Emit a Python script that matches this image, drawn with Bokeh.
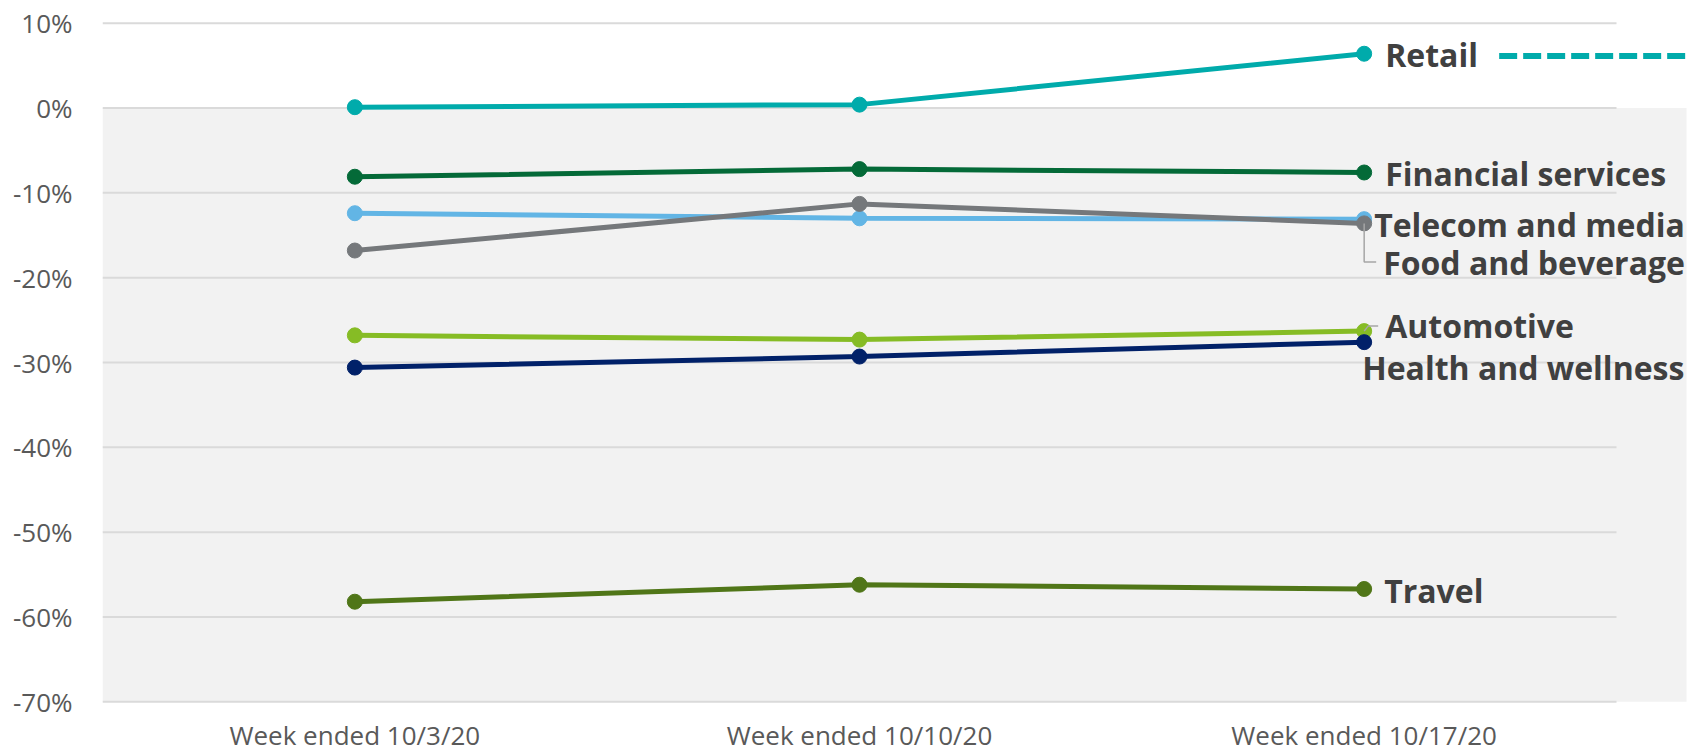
from bokeh.plotting import figure
from bokeh.models import Range1d, FixedTicker, PrintfTickFormatter, BoxAnnotation
from bokeh.core.properties import value
from bokeh.embed import file_html
from bokeh.resources import INLINE

# Weekly change by sector (percent)
weeks = ["Week ended 10/3/20", "Week ended 10/10/20", "Week ended 10/17/20"]
retail = [0.1, 0.4, 6.4]
financial_services = [-8.1, -7.2, -7.6]
telecom_media = [-12.4, -13.0, -13.1]
food_beverage = [-16.8, -11.3, -13.6]
automotive = [-26.8, -27.3, -26.3]
health_wellness = [-30.6, -29.3, -27.6]
travel = [-58.2, -56.2, -56.7]
y_ticks = [10, 0, -10, -20, -30, -40, -50, -60, -70]

# Canvas geometry (pixels)
W, H = 1691, 754
LEFT = 102
FRAME_W = W - LEFT
FRAME_H = H
GRID_W = 1514          # width covered by the three week columns
BAND_W = 1584          # width of the shaded negative band
TOP_GRID_PX = 22.7     # 10% gridline, from the top
BOTTOM_GRID_PX = 701.3 # -70% gridline, from the top

X_PX = GRID_W / 3.0
Y_PX = (BOTTOM_GRID_PX - TOP_GRID_PX) / 80.0

x_range = Range1d(-0.5, -0.5 + FRAME_W / X_PX)
y_range = Range1d(-70 - (FRAME_H - BOTTOM_GRID_PX) / Y_PX, 10 + TOP_GRID_PX / Y_PX)

p = figure(width=W, height=H, x_range=x_range, y_range=y_range,
           output_backend="svg", toolbar_location=None,
           min_border_left=LEFT, min_border_right=0,
           min_border_top=0, min_border_bottom=0)
p.outline_line_color = None
p.background_fill_color = "white"
p.border_fill_color = "white"
p.xgrid.visible = False
p.ygrid.visible = False
p.xaxis.visible = False

# shaded region below zero
p.add_layout(BoxAnnotation(top=0, bottom=-70, left=-0.5, right=-0.5 + BAND_W / X_PX,
                           fill_color="#F2F2F2", fill_alpha=1.0,
                           line_color=None, level="underlay"))

# horizontal gridlines spanning the week columns only
p.segment(x0=[-0.5] * len(y_ticks), x1=[2.5] * len(y_ticks),
          y0=y_ticks, y1=y_ticks, line_color="#DADADA", line_width=2)

x = list(range(len(weeks)))

# week labels under the chart
p.text(x=x, y=[-70 - 33.5 / Y_PX] * len(x), text=weeks,
       text_font=value("Open Sans"), text_font_size="26px",
       text_color="#595959", text_align="center", text_baseline="alphabetic")

# (label, values, colour, label nudge in px: right, baseline below point)
series = [
    ("Telecom and media", telecom_media, "#62B5E5", (10, 5)),
    ("Food and beverage", food_beverage, "#75787B", (19, 39)),
    ("Automotive", automotive, "#86BC25", (21, -5.5)),
    ("Health and wellness", health_wellness, "#012169", (-2, 25)),
    ("Financial services", financial_services, "#046A38", (21, 0.8)),
    ("Travel", travel, "#507618", (20, 1.5)),
    ("Retail", retail, "#00ABAB", (21, 1)),
]

lab_x, lab_y, lab_t = [], [], []
for name, vals, color, (dx, dy) in series:
    p.line(x, vals, line_color=color, line_width=5)
    p.scatter(x, vals, size=15, fill_color=color, line_color=color)
    lab_x.append(x[-1] + dx / X_PX)
    lab_y.append(vals[-1] - dy / Y_PX)
    lab_t.append(name)

# leader lines for the crowded labels
fb = food_beverage[-1]
p.line([2, 2, 2 + 12 / X_PX], [fb, fb - 38.5 / Y_PX, fb - 38.5 / Y_PX],
       line_color="#A6A6A6", line_width=1.5)
au = automotive[-1]
p.line([2, 2 + 4 / X_PX, 2 + 14 / X_PX], [au, au + 5 / Y_PX, au + 5 / Y_PX],
       line_color="#A6A6A6", line_width=1.5)

# dashed continuation after the Retail label
rt = retail[-1]
p.line([2 + 135 / X_PX, x_range.end], [rt - 2.3 / Y_PX, rt - 2.3 / Y_PX],
       line_color="#00ABAB", line_width=6, line_dash="18 6", line_cap="butt")

p.text(x=lab_x, y=lab_y, text=lab_t, text_font=value("Open Sans"),
       text_font_style="bold", text_font_size="32px", text_color="#404040",
       text_align="left", text_baseline="alphabetic")

# value axis
p.yaxis.ticker = FixedTicker(ticks=y_ticks)
p.yaxis.formatter = PrintfTickFormatter(format="%d%%")
ax = p.yaxis[0]
ax.axis_line_color = None
ax.major_tick_line_color = None
ax.minor_tick_line_color = None
ax.major_tick_out = 0
ax.major_tick_in = 0
ax.major_label_text_font = "Open Sans"
ax.major_label_text_font_size = "26px"
ax.major_label_text_color = "#595959"
ax.major_label_standoff = 30

open("out.html", "w").write(file_html(p, INLINE))
